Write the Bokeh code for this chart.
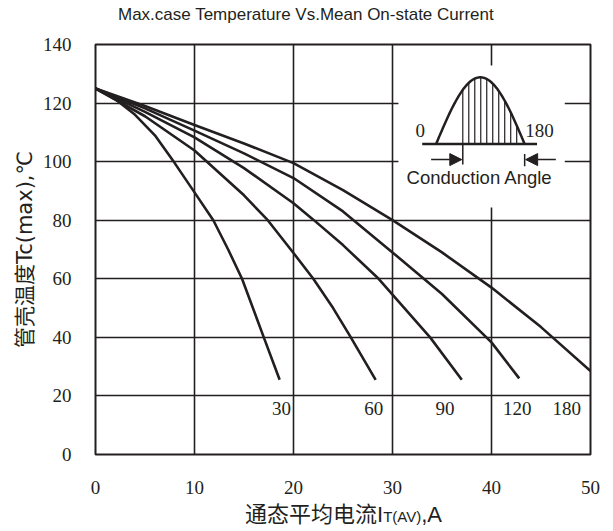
from bokeh.plotting import figure
from bokeh.models import Range1d, FixedTicker, Arrow, NormalHead, Div
from bokeh.layouts import column
from bokeh.embed import file_html
from bokeh.resources import INLINE
from bokeh.core.properties import value
import numpy as np

INK = "#231f20"
SERIF = "Liberation Serif"
YLAB_FONT = "DejaVu Sans, Noto Sans CJK SC"

# ---- data (I_T(AV) in A, Tc(max) in degC) ----
x_30 = [0, 2, 4, 6, 8, 10, 11.9, 13.4, 14.8, 15.9, 17, 18.6]
t_30 = [125, 121.3, 116, 109, 99.5, 89.5, 80, 70, 60, 50, 40, 25.5]

x_60 = [0, 5, 10, 15, 17.4, 20, 22, 24, 25.7, 28.3]
t_60 = [125, 115.5, 103.8, 88.5, 80, 68.8, 60, 50, 40.5, 25.5]

x_90 = [0, 5, 10, 15, 20, 22, 25, 28.6, 30, 33.8, 37]
t_90 = [125, 117, 108.3, 97.8, 85.8, 80.2, 71.5, 60, 54.6, 40, 25.5]

x_120 = [0, 5, 10, 15, 20, 25, 30, 35, 40, 42.8]
t_120 = [125, 118.2, 110.6, 102.8, 94.4, 83, 69, 54.8, 38.3, 26]

x_180 = [0, 5, 10, 15, 20, 25, 30, 35, 40, 45, 50]
t_180 = [125, 119, 112.5, 106.2, 99.5, 90.3, 80, 69, 57, 43.5, 28.5]

series = [(x_30, t_30), (x_60, t_60), (x_90, t_90), (x_120, t_120), (x_180, t_180)]

curve_labels = ["30", "60", "90", "120", "180"]
curve_label_x = [18.8, 28.1, 35.3, 42.6, 47.6]
curve_label_y = 15.7

x_ticks = [0, 10, 20, 30, 40, 50]
y_ticks = [0, 20, 40, 60, 80, 100, 120, 140]

TITLE = "Max.case Temperature Vs.Mean On-state Current"

p = figure(width=608, height=474, x_range=Range1d(0, 50), y_range=Range1d(0, 140),
           output_backend="svg", toolbar_location=None,
           min_border_left=95, min_border_right=18, min_border_top=14, min_border_bottom=50)

p.outline_line_color = INK
p.outline_line_width = 2
p.background_fill_color = "white"
p.border_fill_color = "white"

for ax in (p.xaxis[0], p.yaxis[0]):
    ax.axis_line_color = None
    ax.major_tick_line_color = None
    ax.minor_tick_line_color = None
    ax.major_label_text_font = SERIF
    ax.major_label_text_font_size = "19px"
    ax.major_label_text_color = INK

p.xaxis.ticker = FixedTicker(ticks=x_ticks)
p.yaxis.ticker = FixedTicker(ticks=y_ticks)
p.xaxis.major_label_standoff = 20
p.yaxis.major_label_standoff = 18

p.yaxis.axis_label = "管壳温度Tc(max),℃"
p.yaxis.axis_label_text_font = YLAB_FONT
p.yaxis.axis_label_text_font_size = "21px"
p.yaxis.axis_label_text_font_style = "normal"
p.yaxis.axis_label_text_color = INK
p.yaxis.axis_label_standoff = 3

p.xgrid.ticker = FixedTicker(ticks=[10, 20, 30, 40])
p.ygrid.ticker = FixedTicker(ticks=[20, 40, 60, 80, 100, 120])
for g in (p.xgrid[0], p.ygrid[0]):
    g.grid_line_color = INK
    g.grid_line_width = 1.6

# ---- inset (white box hiding grid) ----
BOX = dict(left=30.6, right=47.4, bottom=84.3, top=132.8)
p.quad(left=[BOX["left"]], right=[BOX["right"]], bottom=[BOX["bottom"]], top=[BOX["top"]],
       fill_color="white", line_color=None)

BASE_Y = 106.0
W0, W1, PEAK = 34.4, 43.35, 128.8
p.segment(x0=[33.0], y0=[BASE_Y], x1=[44.6], y1=[BASE_Y], line_color=INK, line_width=2.5)
wx = np.linspace(W0, W1, 80)
wy = BASE_Y + (PEAK - BASE_Y) * np.sin(np.pi * (wx - W0) / (W1 - W0))
p.line(wx, wy, line_color=INK, line_width=2.5)
hx = [37.1 + i * 0.605 for i in range(10)]
hy = [BASE_Y + (PEAK - BASE_Y) * np.sin(np.pi * (h - W0) / (W1 - W0)) for h in hx]
p.segment(x0=hx, y0=[BASE_Y] * len(hx), x1=hx, y1=hy, line_color=INK, line_width=1.2)
p.segment(x0=[37.1, W1], y0=[99.0, 98.4], x1=[37.1, W1], y1=[BASE_Y, 102.6],
          line_color=INK, line_width=1.5)
ARROW_Y = 100.7
p.add_layout(Arrow(end=NormalHead(size=12, fill_color=INK, line_color=INK),
                   x_start=33.9, y_start=ARROW_Y, x_end=37.0, y_end=ARROW_Y,
                   line_color=INK, line_width=1.5))
p.add_layout(Arrow(end=NormalHead(size=12, fill_color=INK, line_color=INK),
                   x_start=46.5, y_start=ARROW_Y, x_end=43.45, y_end=ARROW_Y,
                   line_color=INK, line_width=1.5))
p.text(x=[32.8, 44.86], y=[110.6, 110.6], text=["0", "180"], text_font=value(SERIF),
       text_font_size="19px", text_align="center", text_baseline="middle", text_color=INK)
p.text(x=[38.8], y=[94.6], text=["Conduction Angle"], text_font=value("Liberation Sans"),
       text_font_size="18.5px", text_align="center", text_baseline="middle", text_color=INK)

# ---- curves ----
for xs, ts in series:
    p.line(xs, ts, line_color=INK, line_width=2.6)

p.text(x=curve_label_x, y=[curve_label_y] * len(curve_labels), text=curve_labels,
       text_font=value(SERIF), text_font_size="19px", text_align="center",
       text_baseline="middle", text_color=INK)

# ---- title above the plot ----
title_html = (
    '<div style="padding-left:118px; padding-top:5px; line-height:20px; white-space:nowrap; '
    'color:#231f20; font-family:\'Liberation Sans\'; font-size:17px;">' + TITLE + '</div>'
)
title_div = Div(text=title_html, width=608, height=30, margin=0)

# ---- x axis label with subscript ----
SANS_CJK = "font-family:'Liberation Sans','Noto Sans CJK SC';"
xlab_html = (
    '<div style="padding-left:245px; padding-top:0px; line-height:22px; white-space:nowrap; '
    'color:#231f20;">'
    '<span style="' + SANS_CJK + 'font-size:22px; line-height:22px;">通态平均电流I</span>'
    '<span style="' + SANS_CJK + 'font-size:15px; line-height:22px;">T(AV)</span>'
    '<span style="' + SANS_CJK + 'font-size:22px; line-height:22px;">,A</span>'
    '</div>'
)
xlab_div = Div(text=xlab_html, width=608, height=25, margin=0)

layout = column(title_div, p, xlab_div, spacing=0)
open("out.html", "w").write(file_html(layout, INLINE))
